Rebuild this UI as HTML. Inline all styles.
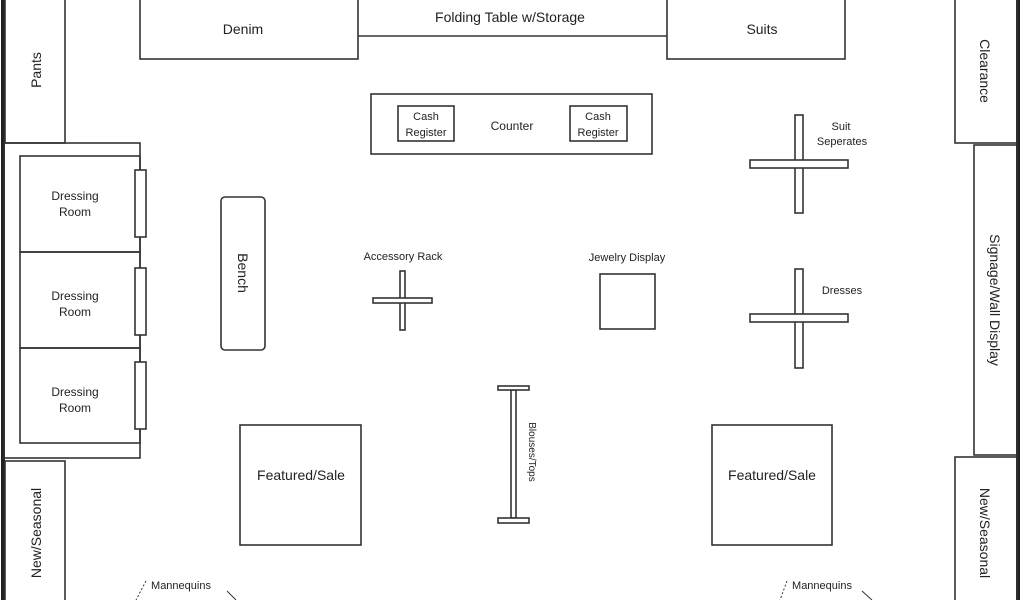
<!DOCTYPE html>
<html><head><meta charset="utf-8"><style>
html,body{margin:0;padding:0;background:#fff;}
svg{display:block;}
text{font-family:"Liberation Sans",sans-serif;fill:#222;}
</style></head><body>
<svg width="1024" height="600" viewBox="0 0 1024 600" xmlns="http://www.w3.org/2000/svg">
<g fill="none" stroke="#333" stroke-width="1.6">
<!-- walls -->
<line x1="3" y1="0" x2="3" y2="600" stroke-width="4" stroke="#222"/>
<line x1="1018" y1="0" x2="1018" y2="600" stroke-width="4" stroke="#222"/>
<!-- left side -->
<rect x="5" y="-2" width="60" height="145"/>
<rect x="4" y="143" width="136" height="315"/>
<rect x="20" y="156" width="120" height="96"/>
<rect x="20" y="252" width="120" height="96"/>
<rect x="20" y="348" width="120" height="95"/>
<rect x="135" y="170" width="11" height="67" fill="#fff"/>
<rect x="135" y="268" width="11" height="67" fill="#fff"/>
<rect x="135" y="362" width="11" height="67" fill="#fff"/>
<rect x="5" y="461" width="60" height="145"/>
<!-- top -->
<rect x="140" y="-2" width="218" height="61"/>
<line x1="358" y1="36" x2="667" y2="36"/>
<rect x="667" y="-2" width="178" height="61"/>
<!-- counter -->
<rect x="371" y="94" width="281" height="60"/>
<rect x="398" y="106" width="56" height="35"/>
<rect x="570" y="106" width="57" height="35"/>
<!-- racks -->
<rect x="795" y="115" width="8" height="98"/>
<rect x="750" y="160" width="98" height="8" fill="#fff"/>
<rect x="795" y="269" width="8" height="99"/>
<rect x="750" y="314" width="98" height="8" fill="#fff"/>
<rect x="221" y="197" width="44" height="153" rx="4"/>
<rect x="400" y="271" width="5" height="59"/>
<rect x="373" y="298" width="59" height="5" fill="#fff"/>
<rect x="600" y="274" width="55" height="55"/>
<rect x="511" y="390" width="5" height="128"/>
<rect x="498" y="386" width="31" height="4" fill="#fff"/>
<rect x="498" y="518" width="31" height="5" fill="#fff"/>
<rect x="240" y="425" width="121" height="120"/>
<rect x="712" y="425" width="120" height="120"/>
<!-- right -->
<rect x="955" y="-2" width="62" height="145"/>
<rect x="974" y="145" width="43" height="310"/>
<rect x="955" y="457" width="62" height="150"/>
<!-- mannequin dotted lines -->
<path d="M146 581 L136 600" stroke-dasharray="2,2" stroke-width="1"/>
<path d="M227 591 L236 600" stroke-width="1"/>
<path d="M787 581 L780 600" stroke-dasharray="2,2" stroke-width="1"/>
<path d="M862 591 L872 600" stroke-width="1"/>
</g>
<g font-size="14" text-anchor="middle">
<text x="243" y="34">Denim</text>
<text x="510" y="22">Folding Table w/Storage</text>
<text x="762" y="34">Suits</text>
<text x="512" y="130" font-size="12">Counter</text>
<text x="426" y="120" font-size="11">Cash</text>
<text x="426" y="136" font-size="11">Register</text>
<text x="598" y="120" font-size="11">Cash</text>
<text x="598" y="136" font-size="11">Register</text>
<text x="841" y="130" font-size="11">Suit</text>
<text x="842" y="145" font-size="11">Seperates</text>
<text x="842" y="294" font-size="11">Dresses</text>
<text x="403" y="260" font-size="11">Accessory Rack</text>
<text x="627" y="261" font-size="11">Jewelry Display</text>
<text x="75" y="200" font-size="12">Dressing</text>
<text x="75" y="216" font-size="12">Room</text>
<text x="75" y="300" font-size="12">Dressing</text>
<text x="75" y="316" font-size="12">Room</text>
<text x="75" y="396" font-size="12">Dressing</text>
<text x="75" y="412" font-size="12">Room</text>
<text x="301" y="480">Featured/Sale</text>
<text x="772" y="480">Featured/Sale</text>
<text x="181" y="589" font-size="11">Mannequins</text>
<text x="822" y="589" font-size="11">Mannequins</text>
<text transform="translate(41,70) rotate(-90)">Pants</text>
<text transform="translate(41,533) rotate(-90)">New/Seasonal</text>
<text transform="translate(238,273) rotate(90)">Bench</text>
<text transform="translate(529,452) rotate(90)" font-size="10">Blouses/Tops</text>
<text transform="translate(980,71) rotate(90)">Clearance</text>
<text transform="translate(990,300) rotate(90)">Signage/Wall Display</text>
<text transform="translate(980,533) rotate(90)">New/Seasonal</text>
</g>
</svg>
</body></html>
